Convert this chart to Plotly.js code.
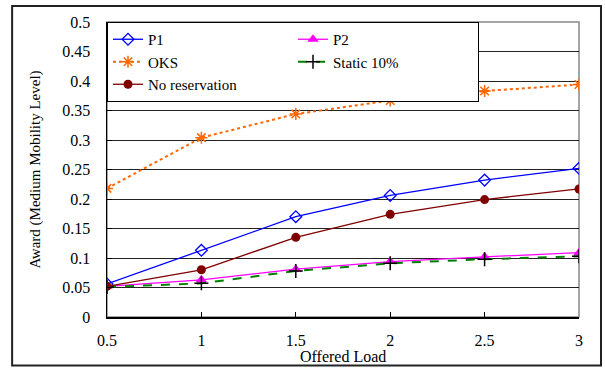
<!DOCTYPE html>
<html><head><meta charset="utf-8">
<script src="https://cdn.plot.ly/plotly-3.0.1.min.js"></script>
<style>html,body{margin:0;padding:0;background:#fff}#chart{width:605px;height:373px}</style>
</head><body><div id="chart"></div>
<script>
const offeredLoad = [0.5, 1, 1.5, 2, 2.5, 3];
const p1 = [0.056, 0.113, 0.170, 0.206, 0.232, 0.252];
const p2 = [0.052, 0.063, 0.081, 0.094, 0.102, 0.109];
const oks = [0.218, 0.304, 0.344, 0.367, 0.383, 0.394];
const static10 = [0.051, 0.057, 0.078, 0.091, 0.098, 0.103];
const noReservation = [0.052, 0.080, 0.135, 0.174, 0.199, 0.217];
const yTicks = [0, 0.05, 0.1, 0.15, 0.2, 0.25, 0.3, 0.35, 0.4, 0.45, 0.5];
const xTicks = [0.5, 1, 1.5, 2, 2.5, 3];

const traces = [
  {x: offeredLoad, y: p1, name: 'P1', mode: 'lines+markers',
   line: {color: '#0000FF', width: 1.3},
   marker: {symbol: 'diamond-open', size: 9, color: '#0000FF', line: {width: 1.3}}},
  {x: offeredLoad, y: p2, name: 'P2', mode: 'lines+markers',
   line: {color: '#FF00FF', width: 1.3},
   marker: {symbol: 'triangle-up', size: 10, color: '#FF00FF'}},
  {x: offeredLoad, y: oks, name: 'OKS', mode: 'lines+markers',
   line: {color: '#FF6600', width: 2, dash: 'dot'},
   marker: {symbol: 'asterisk-open', size: 10, color: '#FF6600', line: {width: 1.5, color: '#FF6600'}}},
  {x: offeredLoad, y: static10, name: 'Static 10%', mode: 'lines+markers',
   line: {color: '#008000', width: 2, dash: 'dash'},
   marker: {symbol: 'cross-thin-open', size: 10, color: '#000', line: {width: 1.5, color: '#000'}}},
  {x: offeredLoad, y: noReservation, name: 'No reservation', mode: 'lines+markers',
   line: {color: '#800000', width: 1.3},
   marker: {symbol: 'circle', size: 9, color: '#800000'}}
];

const FAM = 'Liberation Serif, Times New Roman, DejaVu Serif, serif';
const f = (s) => ({family: FAM, size: s, color: '#000'});

const layout = {
  width: 605, height: 373,
  margin: {l: 107, r: 26, t: 22, b: 56},
  paper_bgcolor: '#fff', plot_bgcolor: '#fff',
  font: f(16),
  showlegend: true,
  legend: {
    x: 0, y: 1, xanchor: 'left', yanchor: 'top',
    orientation: 'h', entrywidth: 140, entrywidthmode: 'pixels',
    bgcolor: '#fff', bordercolor: '#000', borderwidth: 1,
    font: f(15),
    tracegroupgap: 0, traceorder: 'normal'
  },
  xaxis: {
    range: [0.5, 3], tickvals: xTicks, ticktext: xTicks.map(String),
    ticks: 'inside', ticklen: 5, tickcolor: '#000',
    showline: true, linecolor: '#000', linewidth: 1.5,
    showgrid: false, zeroline: false,
    ticklabelstandoff: 8,
    tickfont: f(16)
  },
  yaxis: {
    range: [0, 0.5], tickvals: yTicks, ticktext: yTicks.map(String),
    ticks: 'inside', ticklen: 5, tickcolor: '#000',
    showline: true, linecolor: '#000', linewidth: 1.5,
    showgrid: true, gridcolor: '#222', gridwidth: 1, zeroline: false,
    ticklabelstandoff: 12,
    tickfont: f(16),
    title: {text: 'Award (Medium Mobility Level)', font: f(15), standoff: 18}
  },
  annotations: [
    {text: 'Offered Load', xref: 'paper', yref: 'paper', x: 0.5, y: -0.133,
     xanchor: 'center', yanchor: 'middle', showarrow: false, font: f(16)}
  ],
  shapes: [
    {type: 'rect', xref: 'paper', yref: 'paper', x0: 0, x1: 1, y0: 0, y1: 1,
     line: {color: '#888', width: 1.5}, layer: 'below'},
    {type: 'rect', xref: 'paper', yref: 'paper', x0: -0.201, x1: 1.0466, y0: -0.164, y1: 1.054,
     line: {color: '#222', width: 2}, layer: 'above'}
  ]
};

Plotly.newPlot('chart', traces, layout, {displayModeBar: false, staticPlot: true});
</script></body></html>
